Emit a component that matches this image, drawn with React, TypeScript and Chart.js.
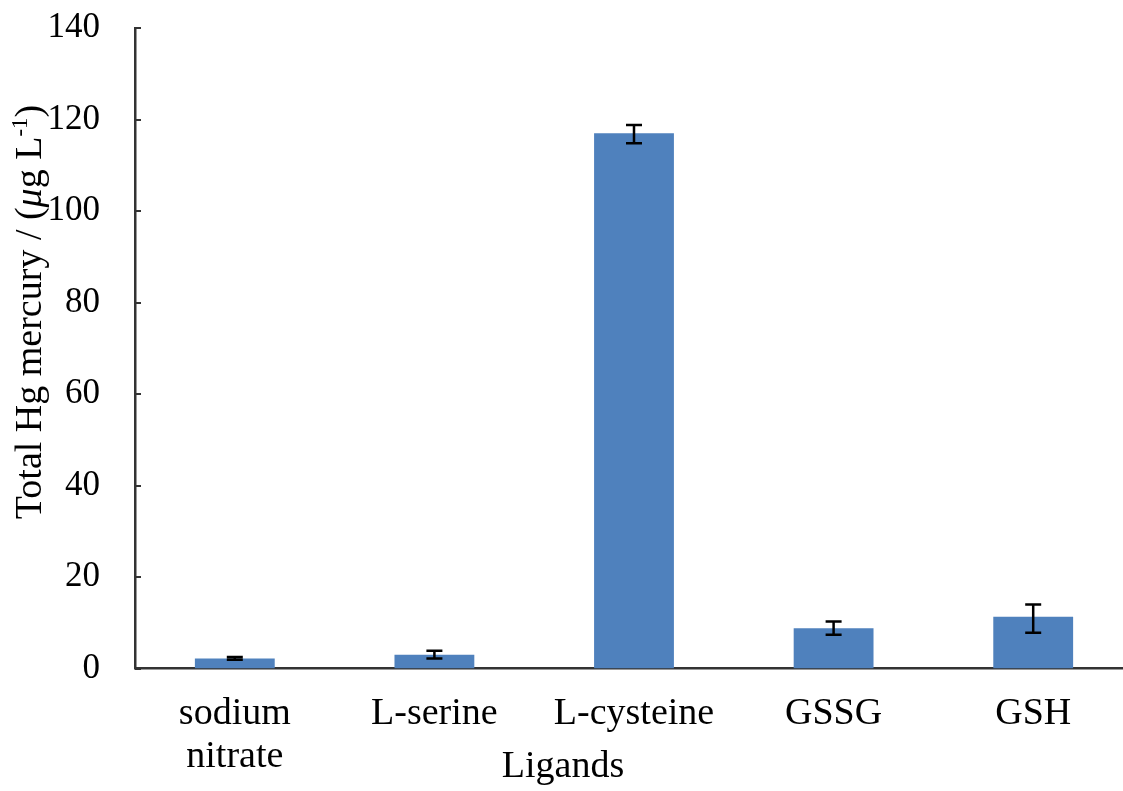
import React, { useEffect, useRef } from "react";
import { Chart, registerables } from "chart.js";

Chart.register(...registerables);

const categories: (string | string[])[] = [["sodium", "nitrate"], "L-serine", "L-cysteine", "GSSG", "GSH"];
const meanValues = [2.2, 3.0, 117.0, 8.8, 11.3];
const errorLow = [0.3, 0.8, 2.2, 1.4, 3.5];
const errorHigh = [0.3, 0.9, 1.8, 1.5, 2.7];
const yTickMax = 140;
const yTickStep = 20;

const FONT = "'Liberation Serif', 'Times New Roman', serif";

const errorBarPlugin = {
  id: "errorBars",
  afterDatasetsDraw(chart: any) {
    const ctx = chart.ctx;
    const meta = chart.getDatasetMeta(0);
    const y = chart.scales.y;
    ctx.save();
    ctx.strokeStyle = "#000";
    ctx.lineWidth = 2.5;
    meta.data.forEach((bar: any, i: number) => {
      const x = bar.x;
      const yTop = y.getPixelForValue(meanValues[i] + errorHigh[i]);
      const yBot = y.getPixelForValue(meanValues[i] - errorLow[i]);
      const cap = 8;
      ctx.beginPath();
      ctx.moveTo(x, yTop);
      ctx.lineTo(x, yBot);
      ctx.moveTo(x - cap, yTop);
      ctx.lineTo(x + cap, yTop);
      ctx.moveTo(x - cap, yBot);
      ctx.lineTo(x + cap, yBot);
      ctx.stroke();
    });
    ctx.restore();
  },
};

const axisDecorPlugin = {
  id: "axisDecor",
  afterDraw(chart: any) {
    const ctx = chart.ctx;
    const y = chart.scales.y;
    const area = chart.chartArea;
    ctx.save();
    // inward tick marks on the y axis
    ctx.strokeStyle = "#333";
    ctx.lineWidth = 2;
    y.ticks.forEach((t: any) => {
      const py = Math.round(y.getPixelForValue(t.value));
      ctx.beginPath();
      ctx.moveTo(area.left, py);
      ctx.lineTo(area.left + 6, py);
      ctx.stroke();
    });

    // y axis title with italic mu and superscript
    const size = 38;
    const normal = `${size}px ${FONT}`;
    const italic = `italic ${size}px ${FONT}`;
    const small = `${Math.round(size * 0.6)}px ${FONT}`;
    const segs = [
      { t: "Total Hg mercury / (", f: normal, dy: 0 },
      { t: "\u03bc", f: italic, dy: 0 },
      { t: "g L", f: normal, dy: 0 },
      { t: "-1", f: small, dy: -size * 0.38 },
      { t: ")", f: normal, dy: 0 },
    ];
    let total = 0;
    segs.forEach((s) => {
      ctx.font = s.f;
      total += ctx.measureText(s.t).width;
    });
    const cy = 312;
    const bx = 41;
    ctx.translate(bx, cy);
    ctx.rotate(-Math.PI / 2);
    ctx.fillStyle = "#000";
    ctx.textBaseline = "alphabetic";
    ctx.textAlign = "left";
    let cx = -total / 2;
    segs.forEach((s) => {
      ctx.font = s.f;
      ctx.fillText(s.t, cx, s.dy);
      cx += ctx.measureText(s.t).width;
    });
    ctx.setTransform(1, 0, 0, 1, 0, 0);

    // x axis title
    ctx.font = `${size}px ${FONT}`;
    ctx.textAlign = "center";
    ctx.fillText("Ligands", 563, 777);
    ctx.restore();
  },
};

export default function App() {
  const ref = useRef<HTMLCanvasElement | null>(null);

  useEffect(() => {
    document.body.style.margin = "0";
    const canvas = ref.current!;
    const chart = new Chart(canvas, {
      type: "bar",
      data: {
        labels: categories,
        datasets: [
          {
            data: meanValues,
            backgroundColor: "#4f81bd",
            borderWidth: 0,
            categoryPercentage: 1,
            barPercentage: 0.4,
          },
        ],
      },
      options: {
        responsive: false,
        animation: false,
        devicePixelRatio: 1,
        layout: { padding: { top: 28, right: 7, left: 0, bottom: 0 } },
        plugins: {
          legend: { display: false },
          tooltip: { enabled: false },
        },
        scales: {
          x: {
            grid: { display: false, drawTicks: false },
            border: { display: true, color: "#333", width: 2.5 },
            ticks: {
              color: "#000",
              padding: 24.5,
              maxRotation: 0,
              autoSkip: false,
              font: { family: FONT, size: 38, lineHeight: 1.13 },
            },
            afterFit(scale: any) {
              scale.height = 122.5;
              scale.paddingLeft = 0;
              scale.paddingRight = 0;
            },
          },
          y: {
            min: 0,
            max: yTickMax,
            grid: { display: false, drawTicks: false },
            border: { display: true, color: "#333", width: 2.5 },
            ticks: {
              stepSize: yTickStep,
              color: "#000",
              padding: 35,
              font: { family: FONT, size: 35 },
            },
            afterFit(scale: any) {
              scale.width = 135;
              scale.paddingTop = 0;
              scale.paddingBottom = 0;
            },
          },
        },
      },
      plugins: [errorBarPlugin, axisDecorPlugin],
    });
    return () => chart.destroy();
  }, []);

  return (
    <div style={{ position: "fixed", left: 0, top: 0, width: 1123, height: 791, overflow: "hidden", background: "#fff" }}>
      <canvas ref={ref} width={1140} height={791} style={{ display: "block" }} />
    </div>
  );
}
